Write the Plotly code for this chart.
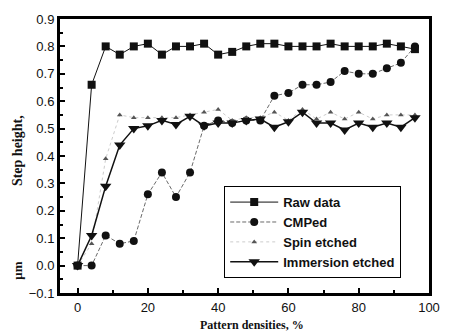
import plotly.graph_objects as go

density = [0, 4, 8, 12, 16, 20, 24, 28, 32, 36, 40, 44, 48, 52, 56, 60, 64, 68, 72, 76, 80, 84, 88, 92, 96]
raw_data = [0.0, 0.66, 0.80, 0.77, 0.80, 0.81, 0.77, 0.80, 0.80, 0.81, 0.77, 0.78, 0.80,
            0.81, 0.81, 0.80, 0.80, 0.80, 0.81, 0.80, 0.80, 0.80, 0.81, 0.80, 0.79]
cmped = [0.0, 0.0, 0.11, 0.08, 0.09, 0.26, 0.34, 0.25, 0.34, 0.51, 0.53, 0.52, 0.53,
         0.53, 0.62, 0.63, 0.66, 0.66, 0.67, 0.71, 0.70, 0.70, 0.72, 0.74, 0.80]
spin_etched = [0.0, 0.08, 0.39, 0.55, 0.54, 0.54, 0.54, 0.54, 0.55, 0.56, 0.57, 0.53, 0.54,
               0.54, 0.56, 0.53, 0.57, 0.535, 0.56, 0.535, 0.56, 0.535, 0.55, 0.55, 0.55]
immersion_etched = [0.0, 0.11, 0.29, 0.44, 0.50, 0.51, 0.53, 0.515, 0.545, 0.51, 0.52, 0.52, 0.53,
                    0.535, 0.505, 0.525, 0.56, 0.52, 0.52, 0.495, 0.52, 0.505, 0.52, 0.505, 0.54]

fig = go.Figure()
fig.add_trace(go.Scatter(x=density, y=raw_data, name="Raw data", mode="lines+markers",
                         line=dict(color="#111", width=1),
                         marker=dict(symbol="square", size=8, color="#111")))
fig.add_trace(go.Scatter(x=density, y=cmped, name="CMPed", mode="lines+markers",
                         line=dict(color="#444", width=0.8, dash="4px,2px"),
                         marker=dict(symbol="circle", size=8, color="#111")))
fig.add_trace(go.Scatter(x=density, y=spin_etched, name="Spin etched", mode="lines+markers",
                         line=dict(color="#ccc", width=1, dash="dot"),
                         marker=dict(symbol="triangle-up", size=5, color="#555")))
fig.add_trace(go.Scatter(x=density, y=immersion_etched, name="Immersion etched", mode="lines+markers",
                         line=dict(color="#111", width=1.5),
                         marker=dict(symbol="triangle-down", size=10, color="#111")))

axis_common = dict(showline=True, linecolor="black", mirror=True, showgrid=False, zeroline=False,
                   ticks="inside", tickcolor="black", tickwidth=2, ticklen=5,
                   tickfont=dict(family="Liberation Sans, Arial", size=13, color="#111"))

fig.update_xaxes(range=[-5, 100], tickvals=[0, 20, 40, 60, 80, 100], linewidth=3,
                 minor=dict(dtick=10, tick0=0, ticks="inside", ticklen=3, tickcolor="black", tickwidth=2),
                 **axis_common)
fig.update_yaxes(range=[-0.1, 0.9], dtick=0.1, tickformat=".1f", linewidth=3,
                 minor=dict(dtick=0.05, tick0=0, ticks="inside", ticklen=3, tickcolor="black", tickwidth=2),
                 **axis_common)

fig.update_layout(
    width=452, height=334,
    margin=dict(l=60, r=12, t=13, b=41),
    plot_bgcolor="white", paper_bgcolor="white",
    showlegend=True,
    legend=dict(x=0.445, y=0.39, xanchor="left", yanchor="top",
                bordercolor="black", borderwidth=1, bgcolor="white",
                font=dict(family="Liberation Sans, Arial", size=13, color="#111", weight="bold"),
                tracegroupgap=0, itemwidth=48, entrywidth=196, entrywidthmode="pixels"),
    annotations=[
        dict(text="<b>Pattern densities, %</b>", x=0.52, y=-0.085, xref="paper", yref="paper",
             xanchor="center", yanchor="top", showarrow=False,
             font=dict(family="Liberation Serif, Times New Roman", size=12, color="#111")),
        dict(text="<b>Step height,</b>", x=-0.115, y=0.52, xref="paper", yref="paper",
             xanchor="center", yanchor="middle", textangle=-90, showarrow=False,
             font=dict(family="Liberation Serif, Times New Roman", size=14, color="#111")),
        dict(text="<b>μm</b>", x=-0.115, y=0.08, xref="paper", yref="paper",
             xanchor="center", yanchor="middle", textangle=-90, showarrow=False,
             font=dict(family="Liberation Serif, Times New Roman", size=13, color="#111")),
    ],
)

fig.write_html("out.html")
